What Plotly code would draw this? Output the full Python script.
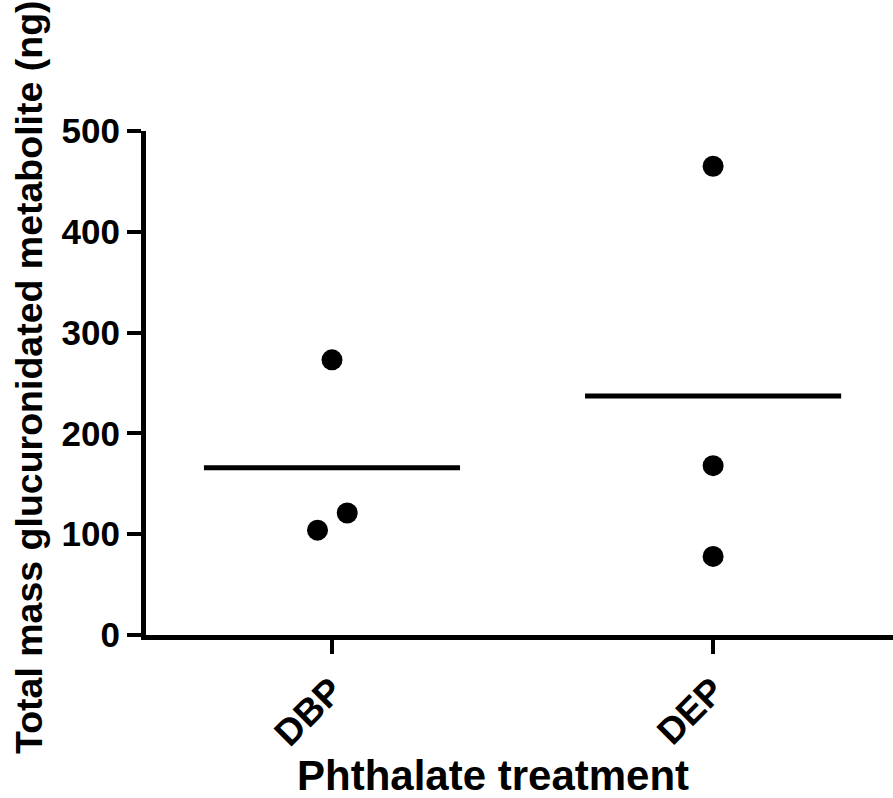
import plotly.graph_objects as go

categories = ["DBP", "DEP"]
dbp_values = [104, 121, 273]
dep_values = [78, 168, 465]
dbp_jitter = [-0.038, 0.040, 0.0]
dep_jitter = [0.0, 0.0, 0.0]
y_ticks = [0, 100, 200, 300, 400, 500]
y_title = "Total mass glucuronidated metabolite (ng)"
x_title = "Phthalate treatment"

groups = [dbp_values, dep_values]
jitters = [dbp_jitter, dep_jitter]

FONT = "Liberation Sans, Arial, sans-serif"
fig = go.Figure()

for i, (vals, jit) in enumerate(zip(groups, jitters)):
    fig.add_trace(go.Scatter(
        x=[i + j for j in jit], y=vals, mode="markers",
        marker=dict(color="black", size=21, line=dict(width=0)),
        showlegend=False, hoverinfo="skip"))
    m = sum(vals) / len(vals)
    fig.add_trace(go.Scatter(
        x=[i - 0.336, i + 0.336], y=[m, m], mode="lines",
        line=dict(color="black", width=5),
        showlegend=False, hoverinfo="skip"))

fig.update_layout(
    width=893, height=798,
    margin=dict(l=146, r=0, t=131, b=163, pad=0),
    paper_bgcolor="white", plot_bgcolor="white",
    font=dict(family=FONT, color="black"),
)

fig.update_xaxes(
    range=[-0.488, 1.472],
    tickvals=list(range(len(categories))), ticktext=categories,
    tickangle=-45,
    tickfont=dict(family=FONT, size=37, weight="bold", color="black"),
    ticks="outside", ticklen=14, tickwidth=4, tickcolor="black",
    showline=True, linewidth=5, linecolor="black",
    showgrid=False, zeroline=False,
)
fig.update_yaxes(
    range=[0, 500],
    tickvals=y_ticks,
    tickfont=dict(family=FONT, size=35, weight="bold", color="black"),
    ticks="outside", ticklen=14, tickwidth=4, tickcolor="black",
    showline=True, linewidth=5, linecolor="black",
    showgrid=False, zeroline=False,
)

fig.add_annotation(
    text=y_title, xref="paper", yref="paper",
    x=-0.1566, y=0.512, xanchor="center", yanchor="middle",
    textangle=-90, showarrow=False,
    font=dict(family=FONT, size=37.5, weight="bold", color="black"))
fig.add_annotation(
    text=x_title, xref="paper", yref="paper",
    x=0.464, y=-0.278, xanchor="center", yanchor="middle",
    showarrow=False,
    font=dict(family=FONT, size=42, weight="bold", color="black"))

fig.write_html("out.html")
